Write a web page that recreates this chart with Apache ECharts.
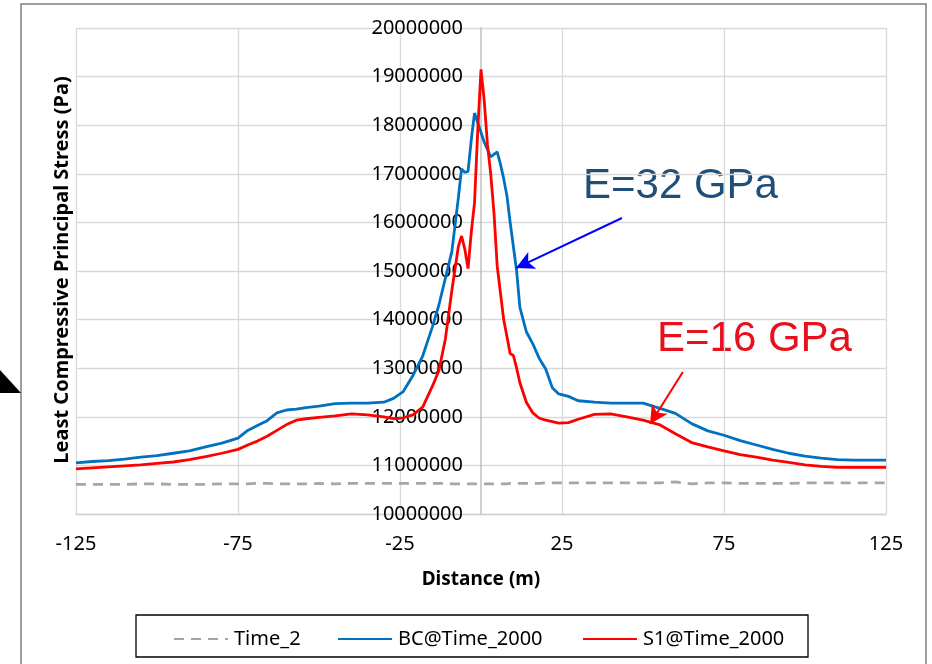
<!DOCTYPE html>
<html>
<head>
<meta charset="utf-8">
<script src="https://cdn.jsdelivr.net/npm/echarts@6/dist/echarts.min.js"></script>
<style>
  html, body { margin: 0; padding: 0; background: #fff; }
  #chart { width: 932px; height: 664px; }
</style>
</head>
<body>
<div id="chart"></div>
<script>
// Distance along profile (m)
const distance = [-125,-120,-115,-110,-105,-100,-95,-90,-85,-80,-75,-72,-69,-66,-63,-60,-57,-54,-50,-45,-40,-35,-30,-27,-24,-21,-18,-15,-13,-11,-9,-7,-6,-5,-4,-3,-2,-1,0,1,2,3,4,5,6,7,8,9,10,11,12,14,16,18,20,22,24,27,30,35,40,45,50,55,60,65,70,75,80,85,90,95,100,105,110,115,120,125];

// Stress values, in millions of Pa (MPa)
const time2MPa = [10.61,10.61,10.61,10.61,10.62,10.62,10.61,10.61,10.61,10.62,10.62,10.62,10.63,10.63,10.62,10.62,10.62,10.62,10.63,10.62,10.63,10.63,10.63,10.63,10.63,10.63,10.63,10.63,10.63,10.63,10.62,10.62,10.62,10.62,10.62,10.62,10.62,10.62,10.62,10.62,10.62,10.62,10.62,10.62,10.62,10.62,10.62,10.63,10.63,10.63,10.63,10.63,10.63,10.63,10.64,10.64,10.64,10.64,10.64,10.64,10.64,10.64,10.64,10.64,10.66,10.62,10.64,10.64,10.63,10.63,10.63,10.63,10.64,10.64,10.64,10.64,10.64,10.64];

const bcMPa = [11.05,11.08,11.10,11.13,11.17,11.20,11.25,11.30,11.38,11.46,11.56,11.72,11.82,11.92,12.08,12.14,12.16,12.19,12.22,12.27,12.28,12.28,12.30,12.38,12.52,12.85,13.25,13.85,14.30,14.85,15.40,16.50,17.10,17.03,17.05,17.70,18.25,18.05,17.85,17.65,17.50,17.35,17.40,17.45,17.20,16.90,16.55,16.00,15.50,15.00,14.25,13.75,13.50,13.20,12.98,12.60,12.47,12.42,12.33,12.30,12.28,12.28,12.28,12.18,12.07,11.86,11.71,11.62,11.51,11.42,11.33,11.25,11.19,11.15,11.12,11.11,11.11,11.11];

const s1MPa = [10.93,10.95,10.97,10.99,11.01,11.04,11.07,11.12,11.18,11.25,11.33,11.42,11.50,11.60,11.72,11.84,11.93,11.96,11.99,12.02,12.06,12.04,12.00,11.96,11.98,12.04,12.20,12.63,12.95,13.60,14.60,15.50,15.72,15.45,15.05,15.80,16.40,17.90,19.15,18.50,17.60,17.00,16.20,15.10,14.55,14.00,13.65,13.30,13.26,13.00,12.70,12.30,12.08,11.97,11.93,11.90,11.87,11.88,11.95,12.05,12.06,12.00,11.93,11.84,11.65,11.47,11.38,11.30,11.22,11.17,11.11,11.06,11.01,10.98,10.96,10.96,10.96,10.96];

const seriesNames = ['Time_2', 'BC@Time_2000', 'S1@Time_2000'];
const xTickLabels = ['-125', '-75', '-25', '25', '75', '125'];
const yMin = 10000000, yMax = 20000000, yStep = 1000000;
const xMin = -125, xMax = 125, xStep = 50;

const toPairs = (vals) => distance.map((d, i) => [d, vals[i] * 1e6]);

const FONT = '"Noto Sans", "Liberation Sans", sans-serif';

const W = 932;
const gridLeft = 76, gridRight = 46;
const gridWidth = W - gridLeft - gridRight;
// move the y axis to distance = 0
const yAxisOffset = -((0 - xMin) / (xMax - xMin)) * gridWidth;

const chart = echarts.init(document.getElementById('chart'), null, { renderer: 'canvas' });

const lineCommon = { type: 'line', xAxisIndex: 0, yAxisIndex: 0, showSymbol: false, symbol: 'none', smooth: false, silent: true, z: 3 };

const legendCommon = { itemWidth: 54, itemHeight: 14, itemGap: 0, itemStyle: { opacity: 0 },
  textStyle: { fontSize: 20, color: '#000', fontFamily: FONT, padding: [0, 0, 0, 1] } };

const option = {
  animation: false,
  backgroundColor: '#fff',
  textStyle: { fontFamily: FONT },
  grid: { left: gridLeft, right: gridRight, top: 28, bottom: 150, containLabel: false, outerBoundsMode: 'none' },
  xAxis: [
    { type: 'value', min: xMin, max: xMax, show: false, position: 'bottom', axisLine: { onZero: false } },
    {
      type: 'value', min: 0, max: xMax - xMin, interval: xStep, position: 'bottom',
      axisLine: { show: true, onZero: false, lineStyle: { color: '#d0d0d0', width: 1.3 } },
      axisTick: { show: false },
      splitLine: { show: true, lineStyle: { color: '#d9d9d9', width: 1.3 } },
      axisLabel: { margin: 20, fontSize: 20, color: '#000', fontFamily: FONT,
        formatter: (v) => xTickLabels[Math.round(v / xStep)] },
      name: 'Distance (m)', nameLocation: 'middle', nameGap: 56,
      nameTextStyle: { fontWeight: 'bold', fontSize: 19, color: '#000', fontFamily: FONT }
    }
  ],
  yAxis: {
    type: 'value', min: yMin, max: yMax, interval: yStep, position: 'left', offset: yAxisOffset,
    axisLine: { show: true, onZero: false, lineStyle: { color: '#bfbfbf', width: 1.5 } },
    axisTick: { show: false },
    splitLine: { show: true, lineStyle: { color: '#d9d9d9', width: 1.3 } },
    axisLabel: { fontSize: 20, margin: 18, color: '#000', fontFamily: FONT, formatter: (v) => String(v) }
  },
  legend: [
    Object.assign({ data: [seriesNames[0]], left: 168, top: 624 }, legendCommon),
    Object.assign({ data: [seriesNames[1]], left: 332, top: 624 }, legendCommon),
    Object.assign({ data: [seriesNames[2]], left: 577, top: 624 }, legendCommon)
  ],
  series: [
    Object.assign({}, lineCommon, {
      name: seriesNames[0], data: toPairs(time2MPa),
      lineStyle: { color: '#a6a6a6', width: 2.8, type: [10, 7] }, itemStyle: { color: '#a6a6a6' }
    }),
    Object.assign({}, lineCommon, {
      name: seriesNames[1], data: toPairs(bcMPa),
      lineStyle: { color: '#0070c0', width: 2.8 }, itemStyle: { color: '#0070c0' },
      markLine: {
        silent: true, symbol: ['none', 'arrow'], symbolSize: [14, 18], label: { show: false },
        lineStyle: { color: '#0000ff', width: 2, type: 'solid' },
        data: [[{ coord: [43.5, 16090000] }, { coord: [10.8, 15060000] }]]
      }
    }),
    Object.assign({}, lineCommon, {
      name: seriesNames[2], data: toPairs(s1MPa),
      lineStyle: { color: '#ff0000', width: 2.8 }, itemStyle: { color: '#ff0000' },
      markLine: {
        silent: true, symbol: ['none', 'arrow'], symbolSize: [14, 18], label: { show: false },
        lineStyle: { color: '#ff0000', width: 2, type: 'solid' },
        data: [[{ coord: [62.3, 12920000] }, { coord: [52.2, 11850000] }]]
      }
    })
  ],
  graphic: [
    { type: 'rect', silent: true, z: -10, shape: { x: 21, y: 4, width: 905, height: 720 },
      style: { fill: 'none', stroke: '#7f7f7f', lineWidth: 1.5 } },
    { type: 'polygon', silent: true, shape: { points: [[0, 370], [21, 393], [0, 393]] },
      style: { fill: '#000' } },
    { type: 'rect', silent: true, shape: { x: 136, y: 615, width: 672, height: 42 },
      style: { fill: 'none', stroke: '#000', lineWidth: 1.3 } },
    { type: 'text', silent: true, x: 62, y: 270, rotation: Math.PI / 2,
      style: { text: 'Least Compressive Principal Stress (Pa)', align: 'center', verticalAlign: 'middle',
        font: 'bold 20px ' + FONT, fill: '#000' } },
    { type: 'text', silent: true, x: 583, y: 186,
      style: { text: 'E=32 GPa', align: 'left', verticalAlign: 'middle',
        font: '42px "Liberation Sans", Arial, sans-serif', fill: '#1f4e79' } },
    { type: 'text', silent: true, x: 657, y: 339,
      style: { text: 'E=16 GPa', align: 'left', verticalAlign: 'middle',
        font: '42px "Liberation Sans", Arial, sans-serif', fill: '#e8101c' } }
  ]
};

chart.setOption(option);
</script>
</body>
</html>
